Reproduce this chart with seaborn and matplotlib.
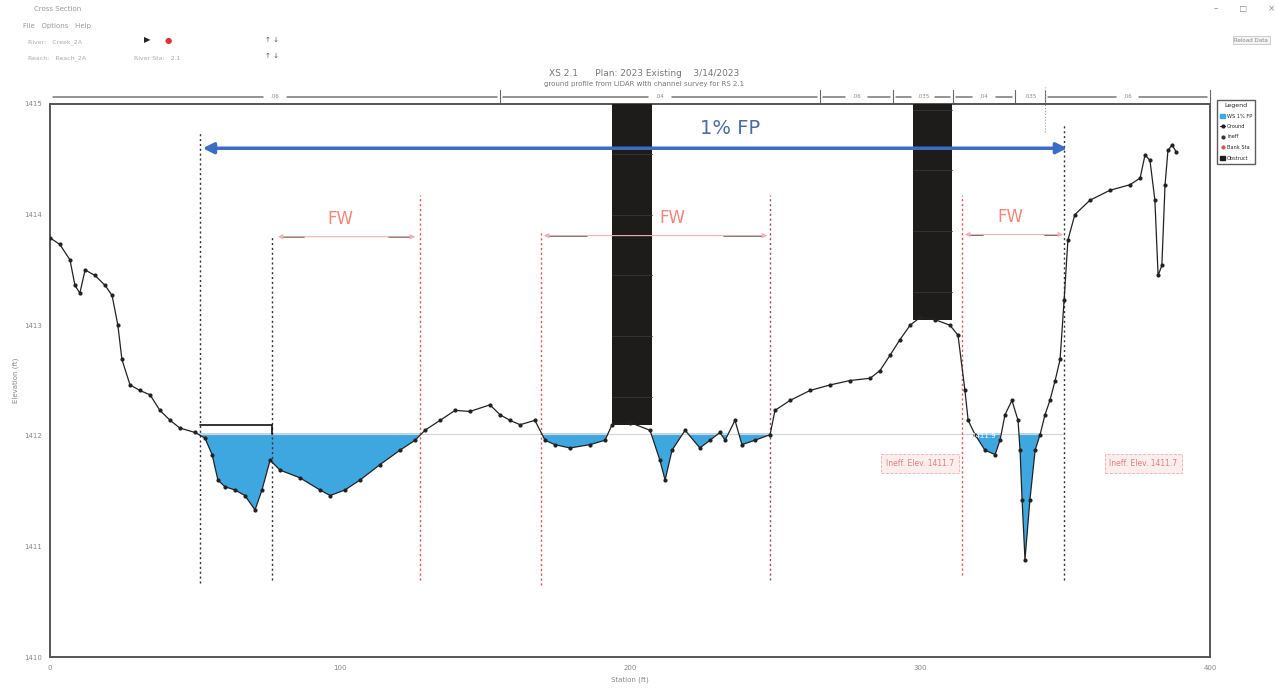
import numpy as np
import pandas as pd
import seaborn as sns
import matplotlib.pyplot as plt
from matplotlib.lines import Line2D
from matplotlib.patches import Patch

# Ground profile
station = [0, 3.4, 6.9, 8.6, 10.3, 12.1, 15.5, 19.0, 21.4, 23.4, 24.8, 27.6, 31.0, 34.5, 37.9,
           41.4, 44.8, 50.0, 53.4, 55.9, 57.9, 60.3, 63.8, 67.2, 70.7, 73.1, 75.9, 79.3, 86.2,
           93.1, 96.6, 101.7, 106.9, 113.8, 120.7, 125.9, 129.3, 134.5, 139.7, 144.8, 151.7,
           155.2, 158.6, 162.1, 167.2, 170.7, 174.1, 179.3, 186.2, 191.4, 193.8, 200.0, 206.9,
           210.3, 212.1, 214.5, 219.0, 224.1, 227.6, 231.0, 232.8, 236.2, 238.6, 243.1, 248.3,
           250.0, 255.2, 262.1, 269.0, 275.9, 282.8, 286.2, 289.7, 293.1, 296.6, 300.0, 305.2,
           310.3, 313.1, 315.5, 316.6, 319.0, 322.4, 325.9, 327.6, 329.3, 331.7, 333.8, 334.5,
           335.2, 336.2, 337.9, 339.7, 341.4, 343.1, 344.8, 346.6, 348.3, 349.7, 351.0, 353.4,
           358.6, 365.5, 372.4, 375.9, 377.6, 379.3, 381.0, 382.1, 383.4, 384.5, 385.5, 386.9,
           388.3]
elevation = [1413.79, 1413.73, 1413.59, 1413.36, 1413.29, 1413.50, 1413.45, 1413.36, 1413.27,
             1413.00, 1412.69, 1412.46, 1412.41, 1412.37, 1412.23, 1412.14, 1412.07, 1412.03,
             1411.98, 1411.83, 1411.60, 1411.54, 1411.51, 1411.46, 1411.33, 1411.51, 1411.78,
             1411.69, 1411.62, 1411.51, 1411.46, 1411.51, 1411.60, 1411.74, 1411.87, 1411.96,
             1412.05, 1412.14, 1412.23, 1412.22, 1412.28, 1412.19, 1412.14, 1412.10, 1412.14,
             1411.96, 1411.92, 1411.89, 1411.92, 1411.96, 1412.10, 1412.12, 1412.05, 1411.78,
             1411.60, 1411.87, 1412.05, 1411.89, 1411.96, 1412.03, 1411.96, 1412.14, 1411.92,
             1411.96, 1412.01, 1412.23, 1412.32, 1412.41, 1412.46, 1412.50, 1412.52, 1412.59,
             1412.73, 1412.87, 1413.00, 1413.07, 1413.05, 1413.00, 1412.91, 1412.41, 1412.14,
             1412.01, 1411.87, 1411.83, 1411.96, 1412.19, 1412.32, 1412.14, 1411.87, 1411.42,
             1410.88, 1411.42, 1411.87, 1412.01, 1412.19, 1412.32, 1412.50, 1412.69, 1413.23,
             1413.77, 1414.00, 1414.13, 1414.22, 1414.27, 1414.33, 1414.54, 1414.49, 1414.13,
             1413.45, 1413.54, 1414.27, 1414.58, 1414.63, 1414.57]

ws_elev = 1412.02
ws_limits = [51.7, 349.7]

# blocked obstructions (left sta, right sta, bottom elev)
obstructions = [(193.8, 207.6, 1412.10), (297.6, 311.0, 1413.05)]

# ineffective flow marker
ineff_sta = [51.7, 76.6, 76.6]
ineff_elev = [1412.10, 1412.10, 1412.02]

# vertical limit lines: station, top, bottom, colour
limit_sta = [51.7, 76.6, 127.6, 169.3, 248.3, 314.5, 349.7]
limit_top = [1414.76, 1413.80, 1414.18, 1413.86, 1414.18, 1414.18, 1414.81]
limit_bot = [1410.67, 1410.70, 1410.70, 1410.65, 1410.70, 1410.74, 1410.70]
limit_col = ["#333333", "#333333", "#d9534f", "#d9534f", "#9a4a4a", "#d9534f", "#333333"]

# floodway arrows
fw_left = [77.6, 169.3, 314.5]
fw_right = [126.9, 248.3, 350.3]
fw_elev = [1413.80, 1413.81, 1413.82]
fw_label_sta = [100.0, 214.5, 331.0]

# 1% floodplain arrow
fp_left, fp_right, fp_elev = 51.7, 351.7, 1414.60

# Manning's n breaks shown above the plot
n_breaks = [0, 155.2, 265.5, 290.7, 311.4, 332.8, 343.1, 400]
n_values = [".06", ".04", ".06", ".035", ".04", ".035", ".06"]

ground = pd.DataFrame({"Station": station, "Elevation": elevation})

sns.set_style("white")
plt.rcParams["font.family"] = ["DejaVu Sans"]

fig = plt.figure(figsize=(12.75, 6.89), dpi=100)
ax = fig.add_axes([50 / 1275, 1 - 657 / 689, 1160 / 1275, 553 / 689])

sta = np.array(station)
elv = np.array(elevation)

# water fill, skipping the obstructions
mask = (elv < ws_elev) & (sta >= ws_limits[0]) & (sta <= ws_limits[1])
for l, r, b in obstructions:
    mask &= ~((sta > l) & (sta < r))
ax.fill_between(sta, elv, ws_elev, where=mask, interpolate=True,
                color="#3fa7df", lw=0, zorder=1)
ax.plot(ws_limits, [ws_elev, ws_elev], color="#d4d4d4", lw=0.8, zorder=1)

# blocked obstructions
for l, r, b in obstructions:
    ax.fill_between([l, r], [b, b], [1415, 1415], color="#1e1b1b", lw=0, zorder=3)
    for e in np.arange(b + 0.25, 1415, 0.55):
        ax.plot([l, r], [e, e], color="#3a3636", lw=0.6, zorder=3)

sns.lineplot(data=ground, x="Station", y="Elevation", ax=ax, sort=False, estimator=None,
             color="#222222", lw=0.9, marker="o", markersize=3, markeredgewidth=0,
             zorder=4, legend=False)

ax.plot(ineff_sta, ineff_elev, color="#111111", lw=1.2, zorder=4)

for s, t, b, c in zip(limit_sta, limit_top, limit_bot, limit_col):
    ax.plot([s, s], [b, t], color=c, lw=1.0, ls=(0, (1.5, 2)), zorder=2)

# floodway arrows
for l, r, e, ls_ in zip(fw_left, fw_right, fw_elev, fw_label_sta):
    ax.annotate("", xy=(l, e), xytext=(r, e),
                arrowprops=dict(arrowstyle="<|-|>", color="#eeb4b4", lw=0.8,
                                mutation_scale=7))
    w = (r - l) * 0.2
    ax.plot([l + 2, l + w], [e, e], color="#555555", lw=1.2)
    ax.plot([r - w, r - 2], [e, e], color="#555555", lw=1.2)
    ax.text(ls_, e + 0.16, "FW", color="#f2867a", fontsize=12, ha="center", va="center")

ax.annotate("", xy=(fp_left, fp_elev), xytext=(fp_right, fp_elev),
            arrowprops=dict(arrowstyle="<|-|>", color="#3d6cc4", lw=2.5, mutation_scale=16))
ax.text(234.5, 1414.78, "1% FP", color="#4a6aa8", fontsize=14, ha="center", va="center")

# ineffective labels
for s, lab in [(300.0, "Ineff. Elev. 1411.7"), (377.0, "Ineff. Elev. 1411.7")]:
    ax.text(s, 1411.75, lab, fontsize=5.5, color="#e08080", ha="center", va="center",
            bbox=dict(boxstyle="square,pad=0.6", fc="#fdeeee", ec="#f0b0b0", lw=0.6, ls="--"))
ax.text(322.0, 1412.0, "1411.9", fontsize=5, color="white", ha="center", va="center", zorder=5)

# Manning's n bar above the plot
tr = ax.get_xaxis_transform()
for i in range(len(n_values)):
    l, r = n_breaks[i], n_breaks[i + 1]
    m = (l + r) / 2
    ax.plot([l + 1, m - 4], [1.013, 1.013], color="#777777", lw=1.1, transform=tr, clip_on=False)
    ax.plot([m + 4, r - 1], [1.013, 1.013], color="#777777", lw=1.1, transform=tr, clip_on=False)
    ax.text(m, 1.013, n_values[i], fontsize=4, color="#888888", ha="center", va="center",
            transform=tr, clip_on=False)
    ax.plot([r, r], [1.0, 1.025], color="#666666", lw=0.8, transform=tr, clip_on=False)
ax.plot([343.1, 343.1], [0.95, 1.03], color="#999999", lw=0.8, ls=":", transform=tr, clip_on=False)

ax.set_xlim(0, 400)
ax.set_ylim(1410, 1415)
ax.set_xticks([0, 100, 200, 300, 400])
ax.set_yticks([1410, 1411, 1412, 1413, 1414, 1415])
ax.tick_params(axis="both", labelsize=5, colors="#888888", length=2)
ax.set_xlabel("Station (ft)", fontsize=5, color="#888888", labelpad=4)
ax.set_ylabel("Elevation (ft)", fontsize=5, color="#888888", labelpad=4)
for sp in ax.spines.values():
    sp.set_color("#555555")
    sp.set_linewidth(1.4)

# legend box on the right
handles = [Patch(color="#3fa7df", label="WS 1% FP"),
           Line2D([], [], color="#222222", marker="o", markersize=2, lw=0.8, label="Ground"),
           Line2D([], [], color="#333333", lw=0, marker="o", markersize=2, label="Ineff"),
           Line2D([], [], color="#d9534f", lw=0, marker="o", markersize=2, label="Bank Sta"),
           Patch(color="#1e1b1b", label="Obstruct")]
leg = fig.legend(handles=handles, title="Legend", loc="upper left",
                 bbox_to_anchor=(1217 / 1275, 1 - 100 / 689), fontsize=3.6,
                 title_fontsize=4.5, frameon=True, fancybox=False, edgecolor="#333333",
                 handlelength=1.0, handletextpad=0.4, borderpad=0.6, labelspacing=1.1,
                 borderaxespad=0)

# title
fig.text(0.505, 1 - 74 / 689, "XS 2.1      Plan: 2023 Existing    3/14/2023", fontsize=6.5,
         color="#777777", ha="center", va="center")
fig.text(0.505, 1 - 84 / 689, "ground profile from LiDAR with channel survey for RS 2.1",
         fontsize=5, color="#777777", ha="center", va="center")

# window chrome
fig.text(0.027, 1 - 9 / 689, "Cross Section", fontsize=5, color="#999999", va="center")
fig.text(0.018, 1 - 26 / 689, "File   Options   Help", fontsize=5, color="#999999", va="center")
fig.text(0.022, 1 - 42 / 689, "River:   Creek_2A", fontsize=4.5, color="#aaaaaa", va="center")
fig.text(0.022, 1 - 58 / 689, "Reach:   Reach_2A", fontsize=4.5, color="#aaaaaa", va="center")
fig.text(0.105, 1 - 58 / 689, "River Sta:   2.1", fontsize=4.5, color="#aaaaaa", va="center")
fig.text(0.113, 1 - 40 / 689, "\u25b6", fontsize=6, color="#222222", va="center")
fig.text(0.129, 1 - 40 / 689, "\u25cf", fontsize=6, color="#e83030", va="center")
fig.text(0.208, 1 - 40 / 689, "\u2191 \u2193", fontsize=5, color="#555555", va="center")
fig.text(0.208, 1 - 56 / 689, "\u2191 \u2193", fontsize=5, color="#555555", va="center")
fig.text(0.952, 1 - 8 / 689, "\u2013        \u25a1        \u00d7", fontsize=6, color="#888888", va="center")
fig.text(0.968, 1 - 40 / 689, "Reload Data", fontsize=4, color="#888888", va="center",
         bbox=dict(boxstyle="square,pad=0.3", fc="#f4f4f4", ec="#bbbbbb", lw=0.5))

fig.savefig("out.png", dpi=100)
